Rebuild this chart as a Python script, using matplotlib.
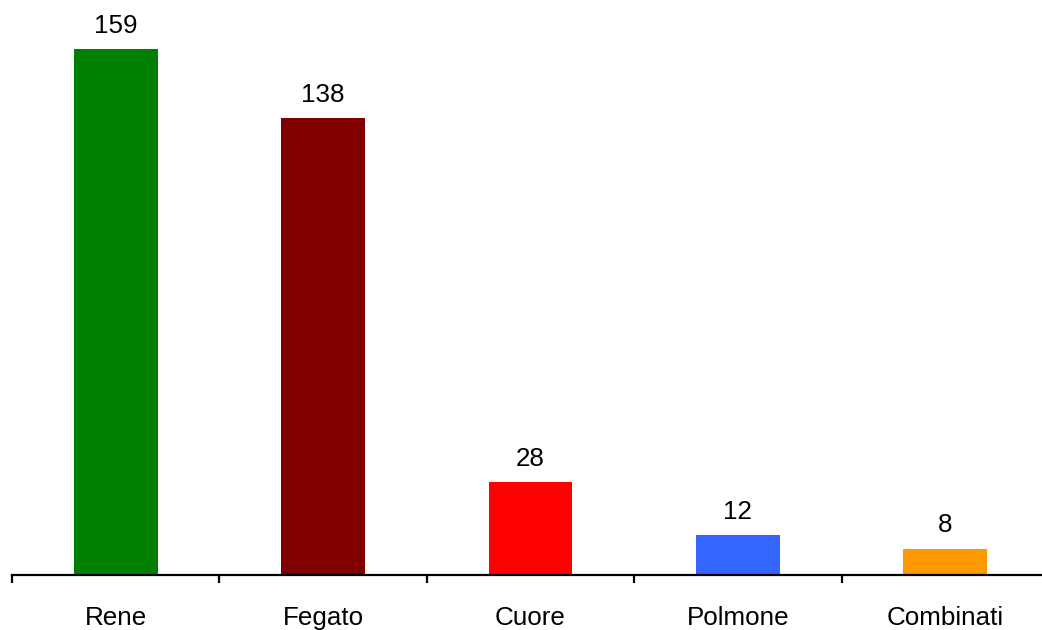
import matplotlib
matplotlib.use("Agg")
import matplotlib.pyplot as plt
import numpy as np

categories = ["Rene", "Fegato", "Cuore", "Polmone", "Combinati"]
values = [159, 138, 28, 12, 8]
colors = ["#008000", "#800000", "#FF0000", "#3366FF", "#FF9900"]

plt.rcParams["font.family"] = ["Liberation Sans", "DejaVu Sans"]

W, H = 1042, 630
fig = plt.figure(figsize=(W / 100, H / 100), dpi=100)
base_px = 575
px_per_unit = 3.308
left_px = 12
cat_px = 207.4
ax = fig.add_axes([left_px / W, (H - base_px) / H, 5 * cat_px / W, base_px / H])

x = np.arange(len(categories))
ax.bar(x, values, width=0.405, color=colors, zorder=2)
ax.set_xlim(-0.5, len(categories) - 0.5)
ax.set_ylim(0, base_px / px_per_unit)

# value labels above each bar
for xi, v in zip(x, values):
    ax.annotate(str(v), (xi, v), xytext=(0, 11.7), textcoords="offset points",
                ha="center", va="baseline", fontsize=18.7)

# category names under the axis
for xi, c in zip(x, categories):
    ax.annotate(c, (xi, 0), xytext=(0, -36), textcoords="offset points",
                ha="center", va="baseline", fontsize=18.7, annotation_clip=False)

for s in ["top", "right", "left"]:
    ax.spines[s].set_visible(False)
ax.spines["bottom"].set_linewidth(1.6)
ax.set_yticks([])
ax.set_xticks(np.arange(-0.5, len(categories), 1.0))
ax.set_xticklabels([])
ax.tick_params(axis="x", direction="out", length=6, width=1.6)

fig.savefig("out.png", dpi=100)
